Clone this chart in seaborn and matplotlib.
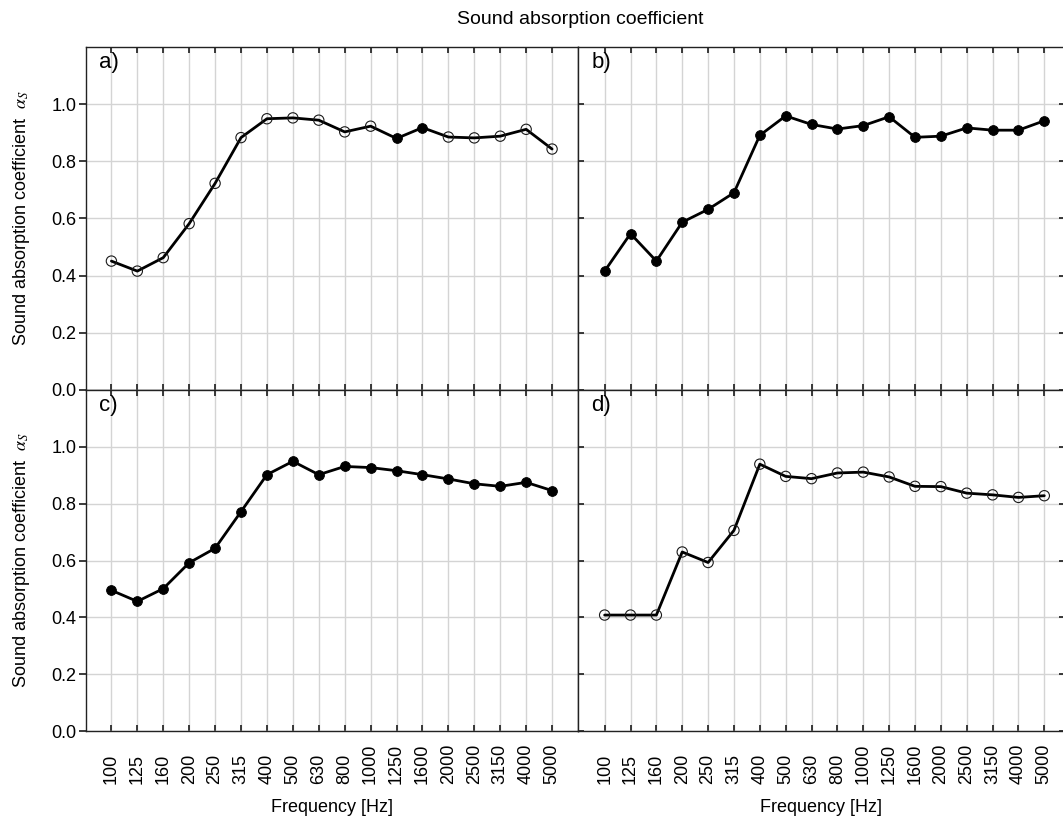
import numpy as np
import pandas as pd
import matplotlib
matplotlib.use("Agg")
import matplotlib.pyplot as plt
import seaborn as sns

freqs = ["100", "125", "160", "200", "250", "315", "400", "500", "630", "800",
         "1000", "1250", "1600", "2000", "2500", "3150", "4000", "5000"]

alpha_a = [0.451, 0.416, 0.463, 0.582, 0.723, 0.883, 0.949, 0.952, 0.944, 0.903,
           0.923, 0.880, 0.918, 0.885, 0.882, 0.888, 0.912, 0.843]
alpha_b = [0.416, 0.547, 0.451, 0.587, 0.632, 0.690, 0.891, 0.959, 0.929, 0.913,
           0.925, 0.956, 0.884, 0.888, 0.917, 0.909, 0.909, 0.942]
alpha_c = [0.495, 0.456, 0.501, 0.592, 0.643, 0.772, 0.902, 0.949, 0.902, 0.931,
           0.927, 0.916, 0.902, 0.887, 0.870, 0.861, 0.875, 0.846]
alpha_d = [0.408, 0.408, 0.408, 0.630, 0.593, 0.706, 0.939, 0.896, 0.888, 0.908,
           0.911, 0.894, 0.861, 0.860, 0.837, 0.831, 0.822, 0.828]

# marker fill per point (True = filled black, False = open)
filled_a = [False] * 11 + [True, True] + [False] * 5
filled_b = [True] * 18
filled_c = [True] * 18
filled_d = [False] * 18

panel_labels = ["a)", "b)", "c)", "d)"]
yticks = [0.0, 0.2, 0.4, 0.6, 0.8, 1.0]

sns.set_theme(style="whitegrid")
plt.rcParams["font.family"] = ["Liberation Sans", "DejaVu Sans"]
plt.rcParams["mathtext.fontset"] = "stix"

W, H = 1063, 827
fig = plt.figure(figsize=(W / 100, H / 100), dpi=100)

x_left, x_mid, x_right = 86, 578, 1065
y_top, y_mid, y_bot = 47, 390, 731

def rect(x0, x1, y0, y1):
    return [x0 / W, 1 - y1 / H, (x1 - x0) / W, (y1 - y0) / H]

axes = [
    fig.add_axes(rect(x_left, x_mid, y_top, y_mid)),
    fig.add_axes(rect(x_mid, x_right, y_top, y_mid)),
    fig.add_axes(rect(x_left, x_mid, y_mid, y_bot)),
    fig.add_axes(rect(x_mid, x_right, y_mid, y_bot)),
]
series = [alpha_a, alpha_b, alpha_c, alpha_d]
fills = [filled_a, filled_b, filled_c, filled_d]
xlims = [(-0.98, 18.0), (-1.03, 17.8), (-0.98, 18.0), (-1.03, 17.8)]

pos = np.arange(len(freqs))

for i, ax in enumerate(axes):
    df = pd.DataFrame({"pos": pos, "alpha": series[i], "filled": fills[i]})
    sns.lineplot(data=df, x="pos", y="alpha", color="black", lw=2.0, ax=ax,
                 zorder=3)
    op = df[~df["filled"]]
    fl = df[df["filled"]]
    if len(op):
        sns.scatterplot(data=op, x="pos", y="alpha", ax=ax, s=55,
                        facecolor="none", edgecolor="#1a1a1a", linewidth=0.8,
                        zorder=4)
    if len(fl):
        sns.scatterplot(data=fl, x="pos", y="alpha", ax=ax, s=50,
                        color="black", edgecolor="black", linewidth=0.6,
                        zorder=4)
    ax.set_xlim(*xlims[i])
    ax.set_ylim(0, 1.2)
    ax.set_yticks(yticks)
    ax.set_xticks(pos)
    ax.grid(True, color="#d4d4d4", lw=1.0)
    ax.set_facecolor("white")
    for sp in ax.spines.values():
        sp.set_color("#222222")
        sp.set_linewidth(1.0)
        sp.set_visible(True)
    ax.tick_params(axis="both", which="both", direction="in", length=4,
                   color="#222222", top=True, right=True, bottom=True, left=True,
                   labelsize=13, labelcolor="black")
    ax.text(0.027, 0.985, panel_labels[i], transform=ax.transAxes,
            fontsize=16, va="top", ha="left", color="black")
    ax.set_xlabel("")
    ax.set_ylabel("")

    left_col = i in (0, 2)
    bottom_row = i in (2, 3)
    if left_col:
        ax.tick_params(axis="y", direction="out", length=5, pad=2)
        ax.set_yticklabels([f"{v:.1f}" for v in yticks])
        ax.set_ylabel(r"Sound absorption coefficient  $\alpha_S$", fontsize=13,
                      labelpad=14, color="black")
    else:
        ax.tick_params(axis="y", labelleft=False)
    if bottom_row:
        ax.set_xticklabels(freqs, rotation=90)
        ax.tick_params(axis="x", pad=38)
        for lab in ax.get_xticklabels():
            lab.set_va("bottom")
        ax.set_xlabel("Frequency [Hz]", fontsize=13, labelpad=11, color="black")
    else:
        ax.tick_params(axis="x", labelbottom=False)

fig.text(580 / W, 1 - 20 / H, "Sound absorption coefficient", ha="center",
         va="center", fontsize=14, color="black")

fig.savefig("out.png", dpi=100, facecolor="white")
